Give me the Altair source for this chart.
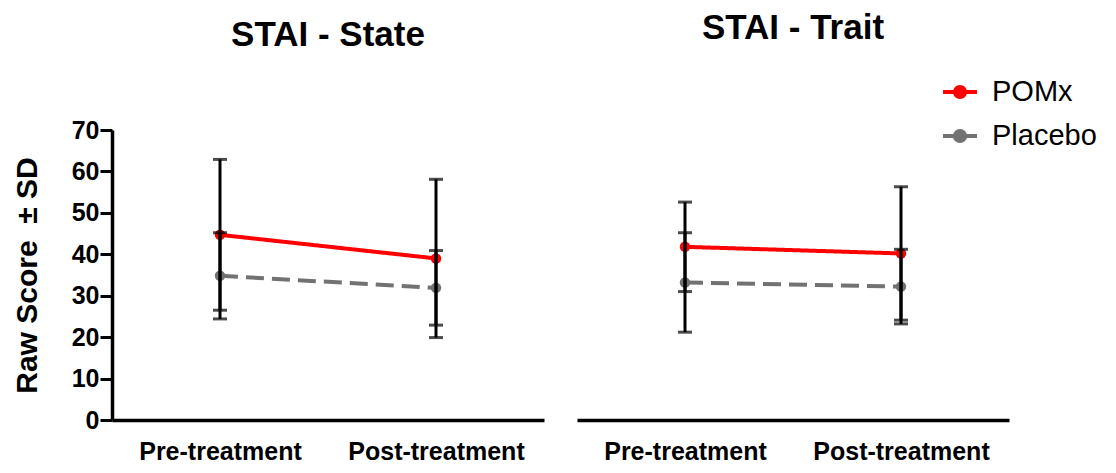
import altair as alt
import pandas as pd

time_labels = ["Pre-treatment", "Post-treatment"]
groups = ["POMx", "Placebo"]
group_colors = ["#ff0000", "#727272"]
group_dashes = [[1, 0], [18, 8]]
panel_titles = ["STAI - State", "STAI - Trait"]

state_pomx_mean = [44.7, 39.0]
state_pomx_sd = [18.2, 19.1]
state_placebo_mean = [34.8, 31.9]
state_placebo_sd = [10.4, 9.0]

trait_pomx_mean = [41.8, 40.2]
trait_pomx_sd = [10.8, 16.1]
trait_placebo_mean = [33.2, 32.2]
trait_placebo_sd = [12.0, 9.0]

FONT = "Liberation Sans"


def make_df(pm, ps, cm, cs):
    rows = []
    for i, t in enumerate(time_labels):
        rows.append(dict(time=t, group="POMx", mean=pm[i], lo=pm[i] - ps[i], hi=pm[i] + ps[i]))
        rows.append(dict(time=t, group="Placebo", mean=cm[i], lo=cm[i] - cs[i], hi=cm[i] + cs[i]))
    return pd.DataFrame(rows)


def panel(df, title, show_y, title_offset):
    x = alt.X(
        "time:N",
        sort=time_labels,
        scale=alt.Scale(type="point", padding=0.5),
        axis=alt.Axis(
            title=None, labelAngle=0, ticks=False, labelFontSize=25,
            labelFontWeight="bold", labelPadding=19, domainWidth=3.5,
            domainColor="black", labelColor="black", labelFont=FONT,
        ),
    )
    yscale = alt.Scale(domain=[0, 70], nice=False, zero=True)
    if show_y:
        yaxis = alt.Axis(
            title="Raw Score\u00a0\u00a0±\u00a0SD", values=list(range(0, 71, 10)), grid=False,
            labelFontSize=25, labelFontWeight="bold", labelColor="black", labelFont=FONT,
            tickSize=12, tickWidth=3, tickColor="black", domainWidth=3.5, domainColor="black",
            labelPadding=1, titleFontSize=30, titleFontWeight="bold", titleColor="black",
            titleFont=FONT, titlePadding=29,
        )
    else:
        yaxis = None
    color = alt.Color(
        "group:N",
        scale=alt.Scale(domain=groups, range=group_colors),
        legend=alt.Legend(
            title=None, orient="none", legendX=829, legendY=-57,
            labelFontSize=29, labelFont=FONT, labelColor="black",
            symbolType="M-1,0H1M-0.3,0A0.3,0.3,0,1,1,0.3,0A0.3,0.3,0,1,1,-0.3,0Z",
            symbolSize=1156, symbolStrokeWidth=4, rowPadding=10, labelOffset=13,
        ),
    )
    base = alt.Chart(df)
    y = alt.Y("mean:Q", scale=yscale, axis=yaxis)
    line_layers = []
    for g, dash in zip(groups, group_dashes):
        line_layers.append(
            base.transform_filter(alt.datum.group == g)
            .mark_line(strokeWidth=4, strokeDash=dash)
            .encode(x=x, y=y, color=color)
        )
    points = base.mark_point(filled=True, size=110, opacity=1).encode(x=x, y=y, color=color)
    rules = base.mark_rule(color="black", strokeWidth=3).encode(
        x=x, y=alt.Y("lo:Q", scale=yscale, axis=yaxis), y2="hi:Q"
    )
    caps_lo = base.mark_tick(color="black", thickness=3, size=14, orient="horizontal").encode(
        x=x, y=alt.Y("lo:Q", scale=yscale, axis=yaxis)
    )
    caps_hi = base.mark_tick(color="black", thickness=3, size=14, orient="horizontal").encode(
        x=x, y=alt.Y("hi:Q", scale=yscale, axis=yaxis)
    )
    return alt.layer(*line_layers, points, rules, caps_lo, caps_hi).properties(
        width=432, height=290,
        title=alt.TitleParams(
            title, offset=title_offset, fontSize=35, fontWeight="bold", font=FONT,
            color="black", anchor="middle", frame="group",
        ),
    )


state_df = make_df(state_pomx_mean, state_pomx_sd, state_placebo_mean, state_placebo_sd)
trait_df = make_df(trait_pomx_mean, trait_pomx_sd, trait_placebo_mean, trait_placebo_sd)

chart = alt.hconcat(
    panel(state_df, panel_titles[0], True, 65),
    panel(trait_df, panel_titles[1], False, 84),
    spacing=33,
).properties(
    padding={"left": 4, "top": 3, "right": 0, "bottom": 0},
).configure_view(stroke=None).configure_axis(grid=False)

chart.save("out.html", embed_options={"renderer": "svg", "actions": False})
